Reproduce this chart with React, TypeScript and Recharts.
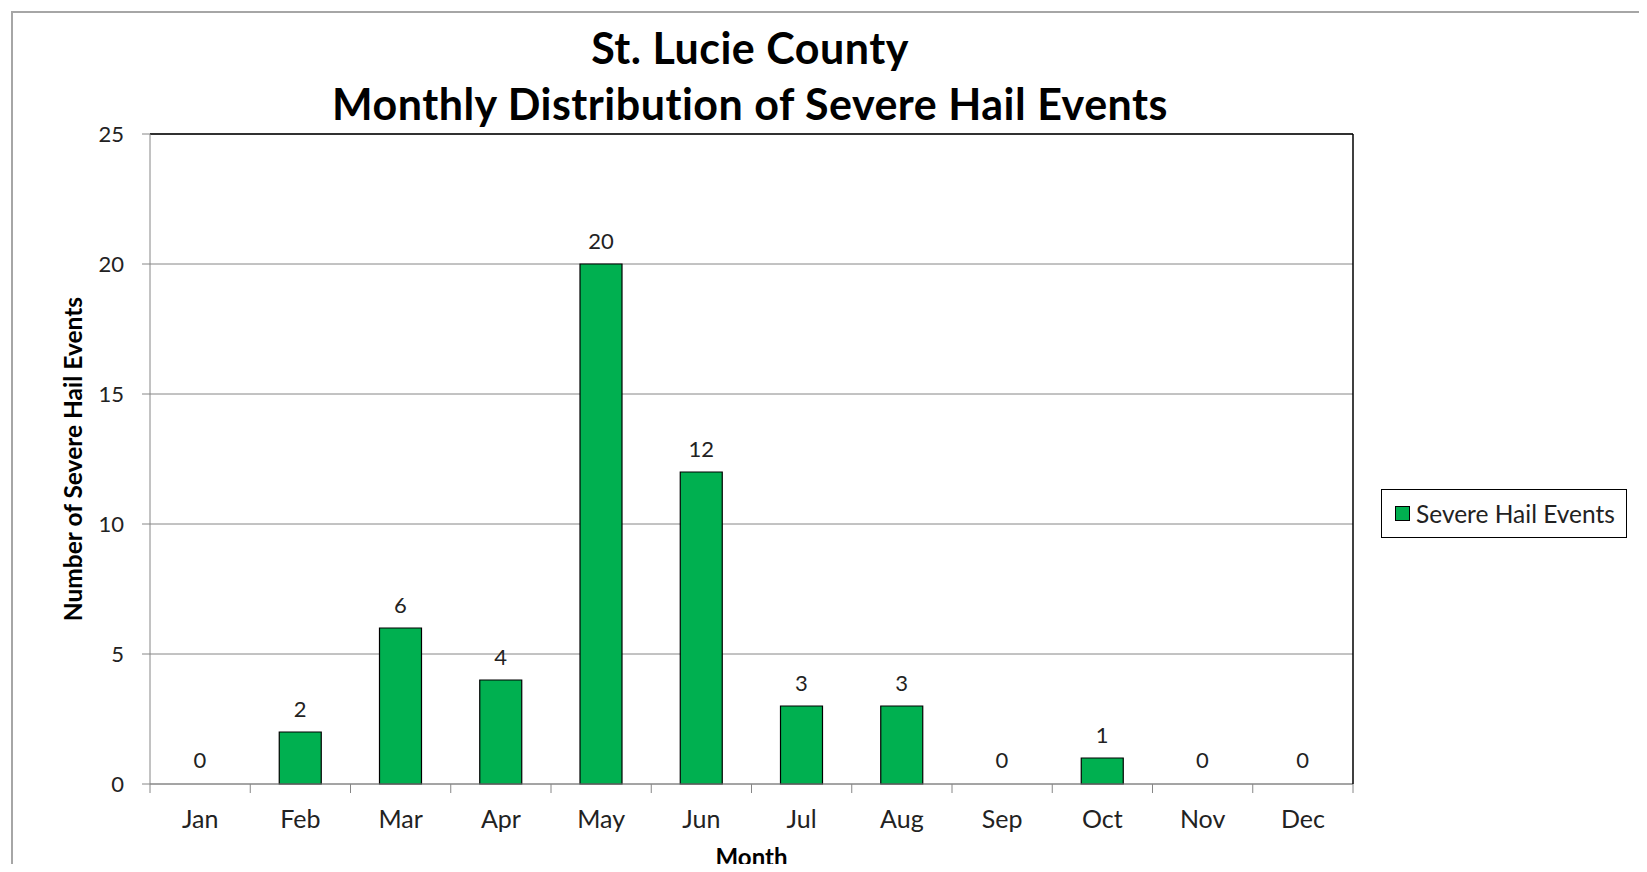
import { Bar, BarChart, CartesianGrid, Label, LabelList, Legend, Rectangle, XAxis, YAxis } from 'recharts'

const months = ['Jan', 'Feb', 'Mar', 'Apr', 'May', 'Jun', 'Jul', 'Aug', 'Sep', 'Oct', 'Nov', 'Dec']
const hailEvents = [0, 2, 6, 4, 20, 12, 3, 3, 0, 1, 0, 0]
const yTicks = [0, 5, 10, 15, 20, 25]
const titleLines = ['St. Lucie County', 'Monthly Distribution of Severe Hail Events']
const seriesName = 'Severe Hail Events'

const data = months.map((m, i) => ({ month: m, events: hailEvents[i] }))

const W = 1639
const H = 864
const PLOT_L = 142
const PLOT_R = 1345
const LEGEND_W = 246
const BAND = (PLOT_R - PLOT_L) / months.length
const GREEN = '#00b050'
const GRID = '#868686'
const FONT = 'Lato, "Open Sans", sans-serif'
const TEXT = '#222'

function MonthTick({ x, y, payload, index }: any) {
  const axisY = y - 9
  return (
    <g>
      <line x1={x - BAND / 2} x2={x - BAND / 2} y1={axisY} y2={axisY + 9} stroke={GRID} />
      {index === months.length - 1 && (
        <line x1={x + BAND / 2} x2={x + BAND / 2} y1={axisY} y2={axisY + 9} stroke={GRID} />
      )}
      <text x={x} y={axisY + 44} textAnchor="middle" fill={TEXT} fontSize={25} fontFamily={FONT}>
        {payload.value}
      </text>
    </g>
  )
}

// zero months get no visible bar, only their label
function HailBar(props: any) {
  if (!props.payload || props.payload.events === 0) return <g />
  return <Rectangle {...props} />
}

function LegendBox({ payload }: any) {
  const label = payload && payload[0] ? payload[0].value : seriesName
  return (
    <div
      style={{
        boxSizing: 'border-box',
        width: LEGEND_W,
        height: 49,
        border: '1.5px solid #000',
        background: '#fff',
        display: 'flex',
        alignItems: 'center',
        paddingLeft: 13,
        fontFamily: FONT,
        fontSize: 24.5,
        color: TEXT,
        whiteSpace: 'nowrap',
      }}
    >
      <span
        style={{
          display: 'inline-block',
          boxSizing: 'border-box',
          width: 15,
          height: 15,
          background: GREEN,
          border: '1px solid #000',
          marginRight: 6,
          flexShrink: 0,
        }}
      />
      {label}
    </div>
  )
}

export default function App() {
  return (
    <div
      style={{
        position: 'relative',
        width: W,
        height: H,
        marginBottom: -8,
        overflow: 'hidden',
        background: '#fff',
      }}
    >
      <div
        style={{
          position: 'absolute',
          left: 3,
          top: 3,
          width: 1634,
          height: 900,
          boxSizing: 'border-box',
          border: '2px solid #a6a6a6',
        }}
      />
      <BarChart
        width={W}
        height={H}
        data={data}
        margin={{ top: 126, right: W - PLOT_R - LEGEND_W, left: 0, bottom: 0 }}
        barSize={42}
      >
        <CartesianGrid stroke={GRID} vertical={false} />
        <XAxis
          dataKey="month"
          height={88}
          interval={0}
          tickSize={9}
          tickMargin={0}
          tickLine={false}
          axisLine={{ stroke: GRID }}
          tick={<MonthTick />}
        >
          <Label
            value="Month"
            position="insideBottom"
            offset={6}
            style={{ fontFamily: FONT, fontWeight: 700, fontSize: 24, fill: '#000' }}
          />
        </XAxis>
        <XAxis
          xAxisId="top"
          orientation="top"
          mirror
          height={10}
          tick={false}
          tickLine={false}
          axisLine={{ stroke: '#000', strokeWidth: 1.5 }}
        />
        <YAxis
          width={142}
          domain={[0, 25]}
          ticks={yTicks}
          interval={0}
          tickSize={8}
          tickMargin={18}
          tickLine={{ stroke: GRID }}
          axisLine={{ stroke: GRID }}
          tick={{ fontSize: 22, fill: TEXT, fontFamily: FONT }}
        >
          <Label
            value="Number of Severe Hail Events"
            angle={-90}
            position="insideLeft"
            offset={65}
            style={{ textAnchor: 'middle', fontFamily: FONT, fontWeight: 700, fontSize: 24.5, fill: '#000' }}
          />
        </YAxis>
        <YAxis
          yAxisId="right"
          orientation="right"
          mirror
          width={10}
          domain={[0, 25]}
          tick={false}
          tickLine={false}
          axisLine={{ stroke: '#000', strokeWidth: 1.5 }}
        />
        <Legend
          layout="horizontal"
          verticalAlign="middle"
          align="right"
          width={LEGEND_W}
          wrapperStyle={{ left: 1373, top: 481, width: LEGEND_W, height: 49 }}
          content={<LegendBox />}
        />
        <Bar
          dataKey="events"
          name={seriesName}
          fill={GREEN}
          stroke="#000"
          strokeWidth={1.2}
          minPointSize={1}
          shape={<HailBar />}
          isAnimationActive={false}
        >
          <LabelList dataKey="events" position="top" offset={15} fill={TEXT} fontSize={22} fontFamily={FONT} />
        </Bar>
      </BarChart>
      <svg width={W} height={140} style={{ position: 'absolute', left: 0, top: 0, pointerEvents: 'none' }}>
        {titleLines.map((t, i) => (
          <text
            key={t}
            x={742}
            y={56 + i * 56}
            textAnchor="middle"
            fontFamily={FONT}
            fontWeight={700}
            fontSize={43}
            letterSpacing={0.5}
            fill="#000"
          >
            {t}
          </text>
        ))}
      </svg>
    </div>
  )
}
